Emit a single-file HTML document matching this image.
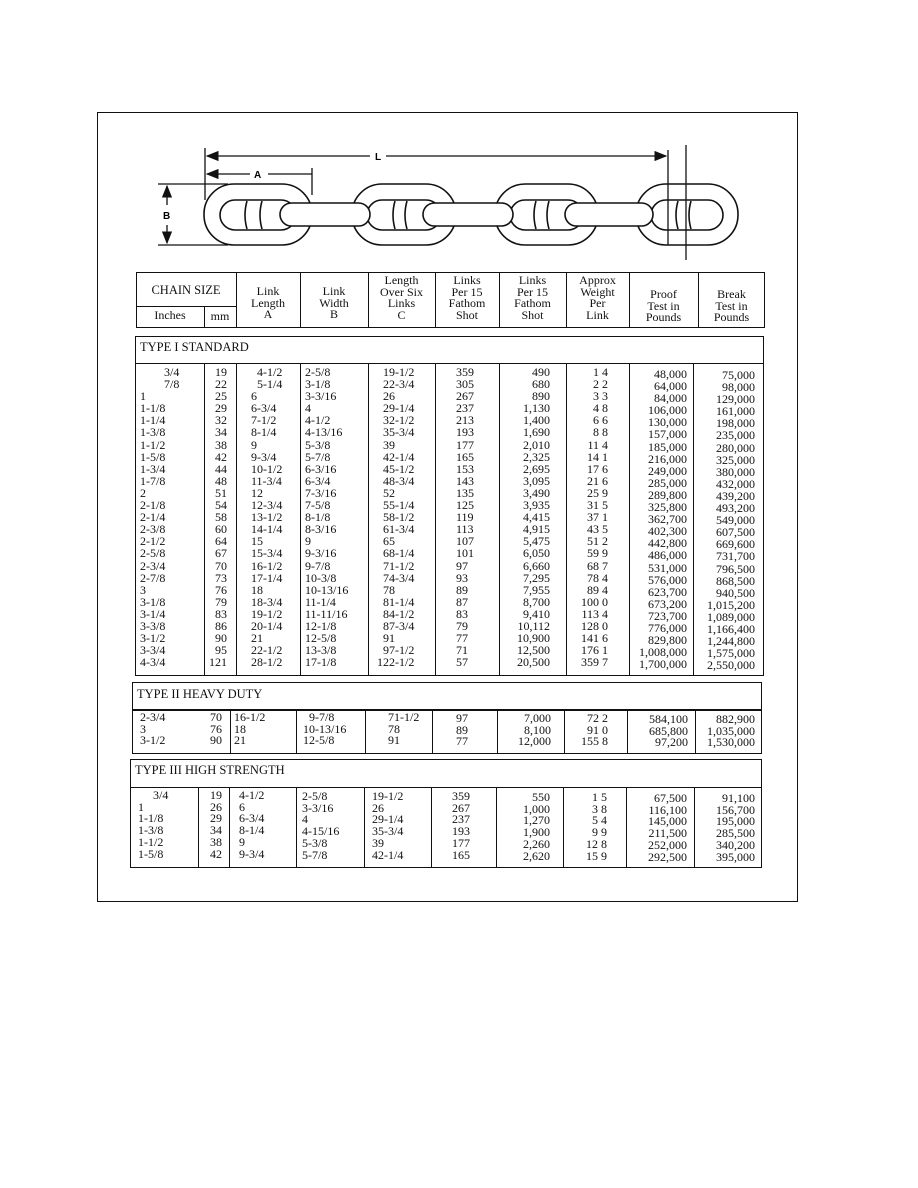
<!DOCTYPE html>
<html><head><meta charset="utf-8"><style>
body{margin:0;background:#fff;width:918px;height:1188px;position:relative;overflow:hidden;font-family:"Liberation Serif",serif;color:#111}
.a{position:absolute}
.c{position:absolute;white-space:pre;font-size:12px;line-height:12.1px}
.r{text-align:right}
.b{position:absolute;border:1.3px solid #111;box-sizing:border-box}
.v{position:absolute;width:0;border-left:1.3px solid #111}
.h{position:absolute;font-size:12px;line-height:11.5px;text-align:center}
.t{position:absolute;font-size:12.5px}
</style></head><body>
<div class="b" style="left:97px;top:112px;width:701px;height:790px"></div>
<svg class="a" style="left:0;top:0" width="918" height="270">
<defs><marker id="ar" markerWidth="10" markerHeight="8" refX="9" refY="4" orient="auto"><path d="M0,0L10,4L0,8z" fill="#111"/></marker></defs>
<g stroke="#111" stroke-width="1.3" fill="none">
<line x1="205" y1="148" x2="205" y2="200"/>
<line x1="686" y1="145" x2="686" y2="260"/>
<line x1="668" y1="150" x2="668" y2="245"/>
<line x1="370" y1="156" x2="207" y2="156" marker-end="url(#ar)"/>
<line x1="386" y1="156" x2="666" y2="156" marker-end="url(#ar)"/>
<line x1="250" y1="174" x2="207" y2="174" marker-end="url(#ar)"/>
<line x1="268" y1="174" x2="312" y2="174"/>
<line x1="312" y1="168" x2="312" y2="195"/>
<line x1="158" y1="184" x2="228" y2="184"/>
<line x1="158" y1="245" x2="228" y2="245"/>
<line x1="167" y1="205" x2="167" y2="186" marker-end="url(#ar)"/>
<line x1="167" y1="225" x2="167" y2="243" marker-end="url(#ar)"/>
<g stroke-width="1.6">
<rect x="204" y="184" width="108" height="61" rx="30"/>
<rect x="352" y="184" width="104" height="61" rx="30"/>
<rect x="495" y="184" width="103" height="61" rx="30"/>
<rect x="636" y="184" width="102" height="61" rx="30"/>
<rect x="220" y="200" width="76" height="30" rx="15"/>
<rect x="367" y="200" width="74" height="30" rx="15"/>
<rect x="510" y="200" width="73" height="30" rx="15"/>
<rect x="651" y="200" width="72" height="30" rx="15"/>
<rect x="280" y="203" width="90" height="23" rx="11.5" fill="#fff"/>
<rect x="423" y="203" width="90" height="23" rx="11.5" fill="#fff"/>
<rect x="565" y="203" width="88" height="23" rx="11.5" fill="#fff"/>
<path d="M247 201q-4 14 0 28M262 201q-4 14 0 28M395 201q-4 14 0 28M407 201q-4 14 0 28M536 201q-4 14 0 28M549 201q-4 14 0 28M678 201q-4 14 0 28M691 201q-4 14 0 28"/>
</g></g>
<text x="254" y="178" font-family="Liberation Sans" font-weight="bold" font-size="10">A</text>
<text x="375" y="160" font-family="Liberation Sans" font-weight="bold" font-size="10">L</text>
<text x="163" y="219" font-family="Liberation Sans" font-weight="bold" font-size="10">B</text>
</svg>

<!-- header -->
<div class="b" style="left:136px;top:272px;width:629px;height:56px"></div>
<div class="a" style="left:136px;top:306px;width:100px;border-top:1.3px solid #111"></div>
<div class="v" style="left:204px;top:306px;height:22px"></div>
<div class="v" style="left:236px;top:272px;height:56px"></div>
<div class="v" style="left:300px;top:272px;height:56px"></div>
<div class="v" style="left:368px;top:272px;height:56px"></div>
<div class="v" style="left:435px;top:272px;height:56px"></div>
<div class="v" style="left:499px;top:272px;height:56px"></div>
<div class="v" style="left:566px;top:272px;height:56px"></div>
<div class="v" style="left:629px;top:272px;height:56px"></div>
<div class="v" style="left:698px;top:272px;height:56px"></div>
<div class="h" style="left:136px;top:285px;width:100px;font-size:12.5px">CHAIN SIZE</div>
<div class="h" style="left:136px;top:310px;width:68px">Inches</div>
<div class="h" style="left:204px;top:311px;width:32px">mm</div>
<div class="h" style="left:236px;top:286px;width:64px">Link<br>Length<br>A</div>
<div class="h" style="left:300px;top:286px;width:68px">Link<br>Width<br>B</div>
<div class="h" style="left:368px;top:275px;width:67px">Length<br>Over Six<br>Links<br>C</div>
<div class="h" style="left:435px;top:275px;width:64px">Links<br>Per 15<br>Fathom<br>Shot</div>
<div class="h" style="left:499px;top:275px;width:67px">Links<br>Per 15<br>Fathom<br>Shot</div>
<div class="h" style="left:566px;top:275px;width:63px">Approx<br>Weight<br>Per<br>Link</div>
<div class="h" style="left:629px;top:289px;width:69px">Proof<br>Test in<br>Pounds</div>
<div class="h" style="left:698px;top:289px;width:67px">Break<br>Test in<br>Pounds</div>

<!-- Type I -->
<div class="b" style="left:135px;top:336px;width:629px;height:28px"></div>
<div class="t" style="left:140px;top:340px">TYPE I STANDARD</div>
<div class="b" style="left:135px;top:363px;width:629px;height:313px"></div>
<div class="v" style="left:204px;top:363px;height:313px"></div>
<div class="v" style="left:236px;top:363px;height:313px"></div>
<div class="v" style="left:300px;top:363px;height:313px"></div>
<div class="v" style="left:368px;top:363px;height:313px"></div>
<div class="v" style="left:435px;top:363px;height:313px"></div>
<div class="v" style="left:499px;top:363px;height:313px"></div>
<div class="v" style="left:566px;top:363px;height:313px"></div>
<div class="v" style="left:629px;top:363px;height:313px"></div>
<div class="v" style="left:693px;top:363px;height:313px"></div>
<div class="c" style="left:140px;top:366px">        3/4
        7/8
1
1-1/8
1-1/4
1-3/8
1-1/2
1-5/8
1-3/4
1-7/8
2
2-1/8
2-1/4
2-3/8
2-1/2
2-5/8
2-3/4
2-7/8
3
3-1/8
3-1/4
3-3/8
3-1/2
3-3/4
4-3/4</div>
<div class="c r" style="left:200px;width:27px;top:366px">19
22
25
29
32
34
38
42
44
48
51
54
58
60
64
67
70
73
76
79
83
86
90
95
121</div>
<div class="c" style="left:251px;top:366px">  4-1/2
  5-1/4
6
6-3/4
7-1/2
8-1/4
9
9-3/4
10-1/2
11-3/4
12
12-3/4
13-1/2
14-1/4
15
15-3/4
16-1/2
17-1/4
18
18-3/4
19-1/2
20-1/4
21
22-1/2
28-1/2</div>
<div class="c" style="left:305px;top:366px">2-5/8
3-1/8
3-3/16
4
4-1/2
4-13/16
5-3/8
5-7/8
6-3/16
6-3/4
7-3/16
7-5/8
8-1/8
8-3/16
9
9-3/16
9-7/8
10-3/8
10-13/16
11-1/4
11-11/16
12-1/8
12-5/8
13-3/8
17-1/8</div>
<div class="c" style="left:377px;top:366px">  19-1/2
  22-3/4
  26
  29-1/4
  32-1/2
  35-3/4
  39
  42-1/4
  45-1/2
  48-3/4
  52
  55-1/4
  58-1/2
  61-3/4
  65
  68-1/4
  71-1/2
  74-3/4
  78
  81-1/4
  84-1/2
  87-3/4
  91
  97-1/2
122-1/2</div>
<div class="c" style="left:456px;top:366px">359
305
267
237
213
193
177
165
153
143
135
125
119
113
107
101
97
93
89
87
83
79
77
71
57</div>
<div class="c r" style="left:500px;width:50px;top:366px">490
680
890
1,130
1,400
1,690
2,010
2,325
2,695
3,095
3,490
3,935
4,415
4,915
5,475
6,050
6,660
7,295
7,955
8,700
9,410
10,112
10,900
12,500
20,500</div>
<div class="c r" style="left:570px;width:38px;top:366px">1 4
2 2
3 3
4 8
6 6
8 8
11 4
14 1
17 6
21 6
25 9
31 5
37 1
43 5
51 2
59 9
68 7
78 4
89 4
100 0
113 4
128 0
141 6
176 1
359 7</div>
<div class="c r" style="left:630px;width:57px;top:368px">48,000
64,000
84,000
106,000
130,000
157,000
185,000
216,000
249,000
285,000
289,800
325,800
362,700
402,300
442,800
486,000
531,000
576,000
623,700
673,200
723,700
776,000
829,800
1,008,000
1,700,000</div>
<div class="c r" style="left:694px;width:61px;top:369px">75,000
98,000
129,000
161,000
198,000
235,000
280,000
325,000
380,000
432,000
439,200
493,200
549,000
607,500
669,600
731,700
796,500
868,500
940,500
1,015,200
1,089,000
1,166,400
1,244,800
1,575,000
2,550,000</div>

<!-- Type II -->
<div class="b" style="left:132px;top:682px;width:630px;height:29px"></div>
<div class="t" style="left:137px;top:687px">TYPE II HEAVY DUTY</div>
<div class="b" style="left:132px;top:709px;width:630px;height:45px"></div>
<div class="v" style="left:230px;top:709px;height:45px"></div>
<div class="v" style="left:296px;top:709px;height:45px"></div>
<div class="v" style="left:365px;top:709px;height:45px"></div>
<div class="v" style="left:432px;top:709px;height:45px"></div>
<div class="v" style="left:497px;top:709px;height:45px"></div>
<div class="v" style="left:564px;top:709px;height:45px"></div>
<div class="v" style="left:627px;top:709px;height:45px"></div>
<div class="v" style="left:695px;top:709px;height:45px"></div>
<div class="c" style="left:140px;top:712px;line-height:11.6px">2-3/4
3
3-1/2</div>
<div class="c r" style="left:195px;width:27px;top:712px;line-height:11.6px">70
76
90</div>
<div class="c" style="left:234px;top:712px;line-height:11.6px">16-1/2
18
21</div>
<div class="c" style="left:303px;top:712px;line-height:11.6px">  9-7/8
10-13/16
12-5/8</div>
<div class="c" style="left:388px;top:712px;line-height:11.6px">71-1/2
78
91</div>
<div class="c" style="left:456px;top:713px;line-height:11.6px">97
89
77</div>
<div class="c r" style="left:500px;width:51px;top:713px;line-height:11.6px">7,000
8,100
12,000</div>
<div class="c r" style="left:570px;width:38px;top:713px;line-height:11.6px">72 2
91 0
155 8</div>
<div class="c r" style="left:630px;width:58px;top:714px;line-height:11.6px">584,100
685,800
97,200</div>
<div class="c r" style="left:696px;width:59px;top:714px;line-height:11.6px">882,900
1,035,000
1,530,000</div>

<!-- Type III -->
<div class="b" style="left:130px;top:759px;width:632px;height:29px"></div>
<div class="t" style="left:135px;top:763px">TYPE III HIGH STRENGTH</div>
<div class="b" style="left:130px;top:787px;width:632px;height:81px"></div>
<div class="v" style="left:198px;top:787px;height:81px"></div>
<div class="v" style="left:229px;top:787px;height:81px"></div>
<div class="v" style="left:296px;top:787px;height:81px"></div>
<div class="v" style="left:364px;top:787px;height:81px"></div>
<div class="v" style="left:431px;top:787px;height:81px"></div>
<div class="v" style="left:496px;top:787px;height:81px"></div>
<div class="v" style="left:563px;top:787px;height:81px"></div>
<div class="v" style="left:626px;top:787px;height:81px"></div>
<div class="v" style="left:694px;top:787px;height:81px"></div>
<div class="c" style="left:138px;top:790px;line-height:11.7px">     3/4
1
1-1/8
1-3/8
1-1/2
1-5/8</div>
<div class="c r" style="left:195px;width:27px;top:790px;line-height:11.7px">19
26
29
34
38
42</div>
<div class="c" style="left:233px;top:790px;line-height:11.7px">  4-1/2
  6
  6-3/4
  8-1/4
  9
  9-3/4</div>
<div class="c" style="left:302px;top:791px;line-height:11.7px">2-5/8
3-3/16
4
4-15/16
5-3/8
5-7/8</div>
<div class="c" style="left:372px;top:791px;line-height:11.7px">19-1/2
26
29-1/4
35-3/4
39
42-1/4</div>
<div class="c" style="left:452px;top:791px;line-height:11.7px">359
267
237
193
177
165</div>
<div class="c r" style="left:500px;width:50px;top:792px;line-height:11.7px">550
1,000
1,270
1,900
2,260
2,620</div>
<div class="c r" style="left:570px;width:37px;top:792px;line-height:11.7px">1 5
3 8
5 4
9 9
12 8
15 9</div>
<div class="c r" style="left:630px;width:57px;top:793px;line-height:11.7px">67,500
116,100
145,000
211,500
252,000
292,500</div>
<div class="c r" style="left:696px;width:59px;top:793px;line-height:11.7px">91,100
156,700
195,000
285,500
340,200
395,000</div>
</body></html>
